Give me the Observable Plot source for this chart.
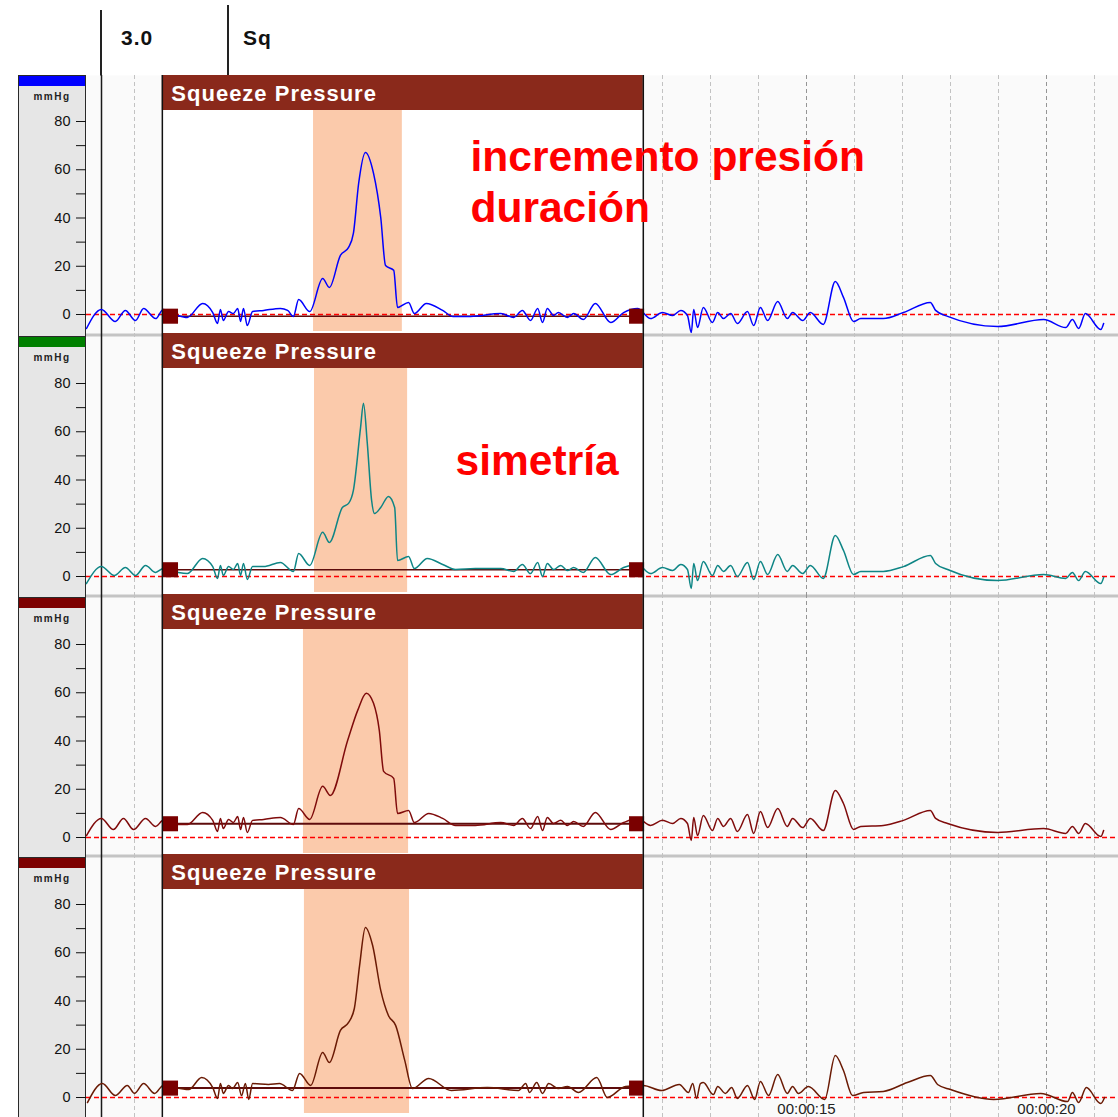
<!DOCTYPE html>
<html>
<head>
<meta charset="utf-8">
<script src="https://cdn.jsdelivr.net/npm/d3@7"></script>
<script src="https://cdn.jsdelivr.net/npm/@observablehq/plot@0.6"></script>
<style>
  body { margin: 0; background: #fff; font-family: "Liberation Sans", Arial, sans-serif; }
  #root { position: relative; width: 1118px; height: 1117px; overflow: hidden; background: #fff; }
  .hdr text { letter-spacing: 1px; }
  .gbox { position: absolute; box-sizing: border-box; left: 18px; width: 68px; background: #e6e6e6;
          border: 1px solid #2a2a2a; border-bottom: none; }
  .gbar { height: 10px; }
  .unit { position: absolute; left: 0; width: 100%; text-align: center; font-size: 10px; font-weight: bold;
          letter-spacing: 1.5px; color: #222; line-height: 10px; }
  .htxt { position: absolute; font-size: 21px; font-weight: bold; letter-spacing: 1px; color: #111; line-height: 21px; }
  svg { position: absolute; left: 0; }
</style>
</head>
<body>
<div id="root"></div>
<script>
// ---------- DATA ----------
// channel traces: [time (s), pressure (mmHg)]
const ch1 = [[0.00,-5.8],[0.31,2.1],[0.60,-2.9],[0.81,1.7],[1.02,-2.5],[1.19,2.5],[1.44,-1.7],[1.60,2.1],[1.90,-0.4],[2.10,-1.2],[2.42,4.6],[2.63,0.8],[2.73,-3.7],[2.79,2.1],[2.85,-2.5],[2.96,1.2],[3.06,0.4],[3.15,2.5],[3.21,-2.9],[3.27,2.5],[3.35,-4.6],[3.46,1.2],[3.69,1.7],[4.04,2.5],[4.19,1.7],[4.31,-0.8],[4.42,6.2],[4.65,1.2],[4.92,14.9],[5.06,11.2],[5.29,24.5],[5.46,27.8],[5.56,33.6],[5.67,54.4],[5.81,67.2],[5.98,58.5],[6.13,40.2],[6.23,20.3],[6.40,18.3],[6.48,2.9],[6.71,5.0],[6.83,0.4],[7.08,4.6],[7.42,1.7],[7.63,-0.8],[8.00,-0.8],[8.63,0.4],[8.90,-1.2],[9.08,1.7],[9.25,-2.5],[9.40,2.5],[9.50,-3.3],[9.60,2.5],[9.73,-0.4],[9.83,0.8],[10.02,-1.2],[10.15,0.4],[10.35,-2.1],[10.60,4.6],[10.92,-3.3],[11.19,0.8],[11.48,2.5],[11.75,-1.7],[12.00,0.8],[12.21,-0.4],[12.38,1.7],[12.52,-0.4],[12.60,-7.5],[12.65,2.1],[12.73,-5.4],[12.85,2.9],[13.04,-3.3],[13.15,0.8],[13.27,-1.7],[13.42,0.4],[13.56,-3.7],[13.77,1.2],[13.90,-4.6],[14.04,2.9],[14.19,-2.5],[14.40,5.4],[14.60,-1.7],[14.71,0.8],[14.92,-2.5],[15.08,0.8],[15.35,-4.1],[15.60,13.7],[15.77,7.1],[15.98,-2.9],[16.13,-1.7],[16.60,-1.7],[17.02,0.8],[17.58,5.0],[17.69,1.7],[17.94,-0.8],[18.98,-5.0],[19.94,-2.1],[20.40,-5.4],[20.54,-2.1],[20.67,-5.8],[20.81,0.4],[21.13,-6.2],[21.19,-3.7]];
const ch2 = [[0.00,-2.9],[0.31,4.1],[0.58,0.4],[0.81,3.7],[1.02,0.4],[1.23,4.6],[1.44,1.7],[1.60,3.3],[1.90,1.7],[2.10,1.2],[2.42,7.5],[2.63,4.1],[2.73,-0.8],[2.79,4.6],[2.85,0.4],[2.96,4.1],[3.06,2.9],[3.15,5.4],[3.21,0.4],[3.27,5.4],[3.35,-1.2],[3.46,4.1],[3.69,4.1],[4.04,5.8],[4.31,2.1],[4.42,9.5],[4.65,4.6],[4.92,18.3],[5.06,14.1],[5.33,28.6],[5.46,30.3],[5.56,35.7],[5.71,61.8],[5.77,71.8],[5.85,55.2],[5.94,31.5],[6.00,26.1],[6.13,28.6],[6.29,33.2],[6.42,28.6],[6.48,6.6],[6.71,8.3],[6.83,3.3],[7.10,7.5],[7.42,5.0],[7.69,2.9],[8.10,3.3],[8.63,3.3],[8.90,2.1],[9.08,5.0],[9.25,1.2],[9.40,5.8],[9.50,0.0],[9.60,5.4],[9.73,2.9],[9.88,4.6],[10.02,2.5],[10.15,3.7],[10.35,1.7],[10.60,7.9],[10.92,0.8],[11.19,3.7],[11.48,5.0],[11.75,1.2],[12.00,3.7],[12.21,2.5],[12.38,5.0],[12.52,2.9],[12.60,-5.0],[12.65,5.4],[12.73,-1.7],[12.85,6.2],[13.04,0.4],[13.15,4.6],[13.27,2.1],[13.42,4.6],[13.56,0.0],[13.77,5.8],[13.90,-1.2],[14.04,6.2],[14.19,0.8],[14.40,9.1],[14.60,2.1],[14.71,4.6],[14.92,1.2],[15.08,4.6],[15.35,-0.8],[15.60,17.0],[15.77,10.8],[15.98,0.8],[16.13,2.1],[16.60,2.1],[17.02,4.1],[17.58,8.7],[17.69,5.4],[17.94,2.9],[18.98,-1.7],[19.94,0.8],[20.40,-0.8],[20.54,1.7],[20.67,-1.7],[20.81,2.1],[21.13,-2.9],[21.19,-0.4]];
const ch3 = [[0.00,0.8],[0.31,7.9],[0.56,3.3],[0.77,7.9],[0.98,3.3],[1.23,7.9],[1.44,4.6],[1.60,7.1],[1.90,5.4],[2.10,5.4],[2.42,10.4],[2.63,7.1],[2.73,2.5],[2.79,7.9],[2.85,3.7],[2.96,7.5],[3.06,6.2],[3.15,8.7],[3.21,3.3],[3.27,8.3],[3.35,2.1],[3.46,7.1],[3.69,7.5],[4.04,8.3],[4.31,5.4],[4.42,12.0],[4.65,7.5],[4.92,21.2],[5.08,17.4],[5.44,40.2],[5.65,52.7],[5.83,59.8],[5.98,55.6],[6.10,44.4],[6.19,27.4],[6.40,24.5],[6.48,10.0],[6.71,11.2],[6.83,6.2],[7.13,10.0],[7.42,7.9],[7.69,5.0],[8.10,5.0],[8.63,6.2],[8.90,5.0],[9.08,7.9],[9.25,3.7],[9.40,8.7],[9.50,2.9],[9.60,8.3],[9.73,5.8],[9.88,7.1],[10.02,5.0],[10.15,6.6],[10.35,4.6],[10.60,10.4],[10.92,3.3],[11.19,6.2],[11.48,7.9],[11.75,5.0],[12.00,7.1],[12.21,5.8],[12.38,7.9],[12.52,5.8],[12.60,-1.2],[12.65,8.3],[12.73,0.8],[12.85,9.1],[13.04,2.9],[13.15,7.9],[13.27,4.6],[13.42,7.9],[13.56,2.5],[13.77,9.5],[13.90,1.7],[14.04,10.8],[14.19,4.1],[14.40,12.0],[14.60,4.6],[14.71,7.9],[14.92,4.1],[15.08,7.9],[15.35,2.9],[15.60,19.5],[15.77,14.1],[15.98,3.3],[16.13,4.6],[16.60,5.0],[17.02,7.1],[17.58,11.2],[17.69,7.9],[17.94,5.8],[18.98,2.1],[19.94,3.7],[20.40,1.7],[20.54,4.6],[20.67,1.7],[20.81,5.8],[21.13,0.4],[21.19,2.9]];
const ch4 = [[0.02,-2.1],[0.33,5.8],[0.60,0.8],[0.85,5.0],[1.00,1.7],[1.19,5.8],[1.42,1.7],[1.60,5.0],[2.13,3.3],[2.40,8.3],[2.63,4.1],[2.73,-0.4],[2.79,5.8],[2.85,1.7],[2.96,5.0],[3.04,3.7],[3.15,6.2],[3.23,0.8],[3.31,5.8],[3.38,-0.8],[3.46,5.8],[3.79,5.4],[4.02,5.8],[4.29,2.9],[4.44,10.0],[4.67,5.0],[4.92,18.7],[5.06,14.5],[5.29,27.8],[5.46,31.1],[5.58,36.9],[5.69,54.8],[5.81,70.5],[5.96,63.1],[6.13,44.4],[6.29,34.0],[6.44,29.9],[6.63,15.4],[6.79,3.7],[7.13,7.9],[7.60,2.9],[8.35,4.1],[9.00,2.9],[9.15,5.8],[9.23,2.1],[9.38,6.2],[9.50,1.7],[9.63,5.8],[9.83,3.7],[10.02,4.6],[10.25,2.1],[10.63,8.3],[10.85,0.0],[11.23,4.6],[11.60,5.0],[11.98,2.9],[12.35,5.4],[12.54,2.1],[12.63,5.8],[12.71,-0.4],[12.79,5.8],[12.85,6.2],[13.06,1.2],[13.15,4.6],[13.31,1.7],[13.44,4.1],[13.56,-0.4],[13.77,5.0],[13.92,-0.8],[14.04,6.6],[14.21,0.8],[14.40,9.5],[14.60,1.7],[14.71,4.6],[14.83,1.7],[15.04,4.6],[15.38,-0.8],[15.60,17.4],[15.77,11.2],[15.96,0.8],[16.19,2.1],[16.60,2.5],[17.10,6.2],[17.58,9.1],[17.73,5.4],[18.00,3.3],[18.90,-0.8],[19.88,1.7],[20.44,-1.7],[20.54,2.1],[20.67,-2.1],[20.83,4.1],[21.13,-2.5],[21.21,0.0]];
const channels = [ch1, ch2, ch3, ch4];

const unitLabel = "mmHg";
const channelColors = ["#0000ff", "#008000", "#7d0000", "#7d0000"];
const traceColors = ["#0000ff", "#0e8585", "#7f0b0b", "#6a1a04"];

const squeezeWindow = {start: 1.58, end: 11.60, label: "Squeeze Pressure"};
const peakWindows = [{start: 4.73, end: 6.58}, {start: 4.75, end: 6.69}, {start: 4.52, end: 6.71}, {start: 4.54, end: 6.73}];
const baselines = [-0.7, 2.8, 5.7, 3.9];
const markerTimes = [1.75, 11.46];
const cursorTime = 0.3125;

const majorTicks = [0, 20, 40, 60, 80];
const minorTicks = [10, 30, 50, 70];
const gridMinor = [1, 2, 3, 4, 6, 7, 8, 9, 11, 12, 13, 14, 16, 17, 18, 19, 21];
const gridMajor = [5, 10, 15, 20];
const timeLabels = [{t: 15, label: "00:00:15"}, {t: 20, label: "00:00:20"}];

const headerTexts = [{x: 121, label: "3.0"}, {x: 243, label: "Sq"}];
const annotations = [
  {panel: 0, t: 8.0, v: 55.5, label: "incremento presión\nduración"},
  {panel: 1, t: 7.69, v: 48.9, label: "simetría"}
];

// ---------- LAYOUT ----------
const pxPerUnit = 2.4125;
const panelLayout = [
  {top: 75,  h: 258, zero: 239, peachBottom: 2, sep: false},
  {top: 333, h: 261, zero: 243, peachBottom: 2, sep: true},
  {top: 594, h: 260, zero: 243, peachBottom: 1, sep: true},
  {top: 854, h: 263, zero: 243, peachBottom: 4, sep: true}
];
const boxTops = [75, 336, 597, 857];
const headerH = 35;
const font = "Liberation Sans, Arial, sans-serif";

const root = document.getElementById("root");

function addDiv(style, cls, text) {
  const d = document.createElement("div");
  if (cls) d.className = cls;
  d.style.position = "absolute";
  Object.assign(d.style, style);
  if (text) d.textContent = text;
  root.appendChild(d);
  return d;
}
// top header
addDiv({left: "100px", top: "10px", width: "1.5px", height: "70px", background: "#222"});
addDiv({left: "227px", top: "5px", width: "1.5px", height: "70px", background: "#222"});
headerTexts.forEach(h => addDiv({left: h.x + "px", top: "27px"}, "htxt", h.label));

// left gray axis boxes
boxTops.forEach((top, i) => {
  const bottom = i < boxTops.length - 1 ? boxTops[i + 1] : 1130;
  const b = addDiv({top: top + "px", height: (bottom - top) + "px"}, "gbox");
  const bar = document.createElement("div");
  bar.className = "gbar";
  bar.style.background = channelColors[i];
  b.appendChild(bar);
  const u = document.createElement("div");
  u.className = "unit";
  u.style.top = "16px";
  u.textContent = unitLabel;
  b.appendChild(u);
});

// panels
channels.forEach((data, i) => {
  const L = panelLayout[i];
  const yTop = L.zero / pxPerUnit;
  const yBot = -(L.h - L.zero) / pxPerUnit;
  const marks = [Plot.frame({fill: "#fafafa", stroke: null})];
  if (L.sep) marks.push(Plot.ruleY([yTop], {stroke: "#c4c4c4", strokeWidth: 3, dy: 1.5}));
  marks.push(
    Plot.ruleX(gridMinor, {stroke: "#c2c2c2", strokeWidth: 1, strokeDasharray: "4,3"}),
    Plot.ruleX(gridMajor, {stroke: "#959595", strokeWidth: 1, strokeDasharray: "4,3"}),
    Plot.ruleX([cursorTime], {stroke: "#1a1a1a", strokeWidth: 1.5}),
    Plot.rect([squeezeWindow], {x1: "start", x2: "end", y1: yBot, y2: yTop, fill: "white"}),
    Plot.rect([peakWindows[i]], {x1: "start", x2: "end", y1: yBot, y2: yTop, insetTop: headerH, insetBottom: L.peachBottom, fill: "#fbcaab"}),
    Plot.rect([squeezeWindow], {x1: "start", x2: "end", y1: yBot, y2: yTop, insetBottom: L.h - headerH, fill: "#8a291b"}),
    Plot.text([squeezeWindow], {x: "start", text: "label", frameAnchor: "top", dx: 9, dy: 18, lineAnchor: "middle",
      textAnchor: "start", fill: "white", fontWeight: "bold", fontSize: 22, className: "hdr"}),
    Plot.ruleY([0], {stroke: "#ff0000", strokeWidth: 1.5, strokeDasharray: "5,3"}),
    Plot.ruleY([{v: baselines[i], a: markerTimes[0], b: markerTimes[1]}], {y: "v", x1: "a", x2: "b", stroke: "#5e0c0c", strokeWidth: i >= 2 ? 2 : 1.5}),
    Plot.line(data, {x: d => d[0], y: d => d[1], stroke: traceColors[i], strokeWidth: 1.5, curve: "monotone-x"}),
    Plot.dot(markerTimes.map(t => ({t, v: baselines[i]})), {x: "t", y: "v", symbol: "square", r: 8.5, fill: "#7a0000", stroke: null}),
    Plot.ruleX([squeezeWindow.start, squeezeWindow.end], {stroke: "#111", strokeWidth: 1.5}),
    Plot.text(annotations.filter(a => a.panel === i), {x: "t", y: "v", text: "label", fill: "#ff0000", fontWeight: "bold",
      fontSize: 42.5, textAnchor: "start", lineAnchor: "middle", lineHeight: 1.2}),
    Plot.axisY(majorTicks, {anchor: "left", tickSize: 10, tickPadding: 6, fontSize: 14.5, label: null, tickFormat: d => String(d)}),
    Plot.axisY(minorTicks, {anchor: "left", tickSize: 10, label: null, tickFormat: () => ""})
  );
  if (i === channels.length - 1) {
    marks.push(Plot.text(timeLabels, {x: "t", text: "label", frameAnchor: "bottom", dy: -14, lineAnchor: "top", fontSize: 15, fill: "#222"}));
  }
  const svg = Plot.plot({
    width: 1118, height: L.h,
    marginLeft: 86, marginRight: 0, marginTop: 0, marginBottom: 0,
    x: {domain: [0, 21.5], axis: null},
    y: {domain: [yBot, yTop]},
    style: {background: "transparent", fontFamily: font, color: "#111", overflow: "visible"},
    marks
  });
  svg.style.position = "absolute";
  svg.style.top = L.top + "px";
  svg.style.left = "0px";
  root.appendChild(svg);
});
</script>
</body>
</html>
